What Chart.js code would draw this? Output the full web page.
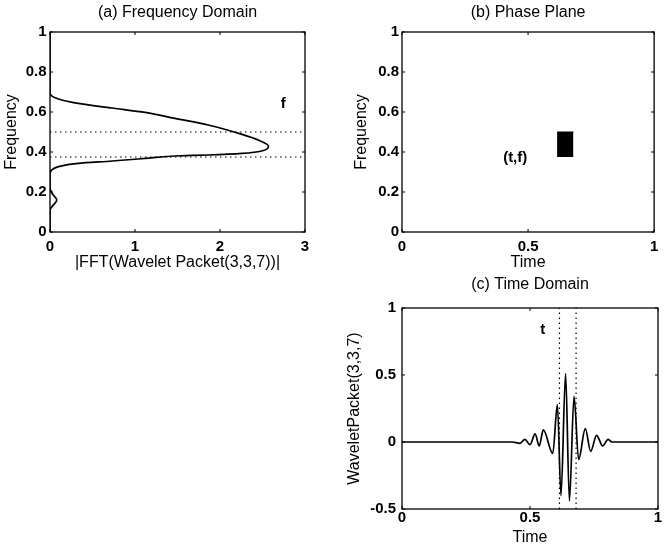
<!DOCTYPE html>
<html>
<head>
<meta charset="utf-8">
<script src="https://cdn.jsdelivr.net/npm/chart.js@4.4.1/dist/chart.umd.min.js"></script>
<style>
  html, body { margin: 0; padding: 0; background: #fff; overflow: hidden; }
  #wrap { position: relative; width: 664px; height: 550px; }
  canvas { position: absolute; }
</style>
</head>
<body>
<div id="wrap">
  <canvas id="freq" width="330" height="275" style="left:0;top:0"></canvas>
  <canvas id="phase" width="334" height="275" style="left:330px;top:0"></canvas>
  <canvas id="time" width="334" height="275" style="left:330px;top:275px"></canvas>
</div>
<script>
// (a) |FFT| of the wavelet packet, ordered by frequency
const specFreq = [0, 0.11, 0.13, 0.16, 0.19, 0.22, 0.29, 0.31, 0.327, 0.343, 0.355, 0.368, 0.38, 0.385, 0.393, 0.405, 0.43, 0.46, 0.488, 0.535, 0.568, 0.598, 0.62, 0.643, 0.665, 0.685, 0.70, 0.72, 1];
const specMag  = [0, 0, 0.03, 0.08, 0.03, 0, 0, 0.02, 0.1, 0.33, 0.73, 1.12, 1.47, 1.86, 2.26, 2.49, 2.57, 2.45, 2.26, 1.86, 1.47, 1.12, 0.73, 0.33, 0.1, 0.01, 0, 0, 0];

// frequency band (dotted in a, box height in b) and time band (dotted in c, box width in b)
const bandFreq = [0.375, 0.5];
const bandTime = [0.615, 0.68];

// (c) the wavelet packet in time, peaks and troughs
const waveTime = [0, 0.43, 0.461, 0.48, 0.50, 0.52, 0.536, 0.552, 0.589, 0.607, 0.621, 0.639, 0.654, 0.672, 0.69, 0.716, 0.737, 0.76, 0.784, 0.805, 0.82, 1];
const waveVal  = [0, 0, -0.01, 0.02, -0.02, 0.06, -0.03, 0.09, -0.085, 0.28, -0.4, 0.51, -0.44, 0.34, -0.13, 0.1, -0.07, 0.05, -0.03, 0.02, 0, 0];

// tick labels
const magTicks  = [0, 1, 2, 3];
const freqTicks = [0, 0.2, 0.4, 0.6, 0.8, 1];
const timeTicks = [0, 0.5, 1];
const waveTicks = [-0.5, 0, 0.5, 1];

Chart.defaults.font.family = '"Liberation Sans", Arial, Helvetica, sans-serif';
Chart.defaults.font.size = 16;
Chart.defaults.color = '#000';

const FONT = { size: 16 };
const TICKFONT = { size: 15, weight: 'bold' };

// matlab style frame + inward tick marks
const boxPlugin = {
  id: 'box',
  afterDatasetsDraw(chart) {
    const { ctx, chartArea: a, scales } = chart;
    ctx.save();
    ctx.strokeStyle = '#000';
    ctx.lineWidth = 1.3;
    ctx.strokeRect(a.left, a.top, a.right - a.left, a.bottom - a.top);
    ctx.lineWidth = 1;
    ctx.beginPath();
    scales.x.ticks.forEach(t => {
      const px = scales.x.getPixelForValue(t.value);
      ctx.moveTo(px, a.bottom); ctx.lineTo(px, a.bottom - 3);
      ctx.moveTo(px, a.top); ctx.lineTo(px, a.top + 3);
    });
    scales.y.ticks.forEach(t => {
      const py = scales.y.getPixelForValue(t.value);
      ctx.moveTo(a.left, py); ctx.lineTo(a.left + 3, py);
      ctx.moveTo(a.right, py); ctx.lineTo(a.right - 3, py);
    });
    ctx.stroke();
    ctx.restore();
  }
};

// small text labels placed at data coordinates
const notesPlugin = {
  id: 'notes',
  afterDatasetsDraw(chart, args, opts) {
    const { ctx, scales } = chart;
    ctx.save();
    ctx.fillStyle = '#000';
    ctx.font = 'bold 15px "Liberation Sans", Arial, sans-serif';
    ctx.textAlign = 'center';
    ctx.textBaseline = 'middle';
    (opts.items || []).forEach(n => {
      ctx.fillText(n.text, scales.x.getPixelForValue(n.x), scales.y.getPixelForValue(n.y));
    });
    ctx.restore();
  }
};

function fixTicks(vals) {
  return scale => { scale.ticks = vals.map(v => ({ value: v })); };
}

const plainLabel = v => String(v);

function makeChart(id, g) {
  return new Chart(document.getElementById(id), {
    type: 'line',
    data: { datasets: g.datasets },
    plugins: [boxPlugin, notesPlugin],
    options: {
      responsive: false,
      animation: false,
      devicePixelRatio: 1,
      indexAxis: g.indexAxis || 'x',
      layout: { padding: { left: 0, top: 0, right: g.padRight, bottom: g.padBottom } },
      elements: { point: { radius: 0 } },
      plugins: {
        legend: { display: false },
        tooltip: { enabled: false },
        notes: { items: g.notes }
      },
      scales: {
        x: {
          type: 'linear', position: 'bottom',
          min: g.xRange[0], max: g.xRange[1],
          afterBuildTicks: fixTicks(g.xTicks),
          afterFit: s => { s.height = g.xAxisH; },
          grid: { display: false, drawTicks: false },
          border: { display: false },
          ticks: { font: TICKFONT, padding: g.xTickPad, maxRotation: 0, autoSkip: false, callback: plainLabel },
          title: { display: true, text: g.xTitle, font: FONT, padding: { top: 0, bottom: 0 } }
        },
        y: {
          type: 'linear', position: 'left',
          min: g.yRange[0], max: g.yRange[1],
          afterBuildTicks: fixTicks(g.yTicks),
          afterFit: s => { s.width = g.yAxisW; },
          grid: { display: false, drawTicks: false },
          border: { display: false },
          ticks: { font: TICKFONT, padding: g.yTickPad, autoSkip: false, callback: plainLabel },
          title: { display: true, text: g.yTitle, font: FONT, padding: { top: g.yTitlePad, bottom: 0 } }
        },
        xTop: {
          type: 'linear', axis: 'x', position: 'top',
          min: g.xRange[0], max: g.xRange[1],
          afterFit: s => { s.height = g.topH; },
          grid: { display: false, drawTicks: false },
          border: { display: false },
          ticks: { display: false },
          title: { display: true, text: g.title, font: FONT, padding: { top: g.titlePad, bottom: 0 } }
        }
      }
    }
  });
}

const solid = { borderColor: '#000', borderWidth: 1.7, pointRadius: 0, fill: false };
const dotted = { borderColor: '#000', borderWidth: 1.2, borderDash: [1.5, 3.5], pointRadius: 0, fill: false, tension: 0 };

// (a) Frequency Domain
const magEnds = [magTicks[0], magTicks[magTicks.length - 1]];
makeChart('freq', {
  indexAxis: 'y',
  datasets: [
    Object.assign({}, solid, {
      data: specFreq.map((f, i) => ({ x: specMag[i], y: f })),
      cubicInterpolationMode: 'monotone'
    }),
    Object.assign({}, dotted, { data: magEnds.map(m => ({ x: m, y: bandFreq[1] })) }),
    Object.assign({}, dotted, { data: magEnds.map(m => ({ x: m, y: bandFreq[0] })) })
  ],
  xRange: [0, 3], yRange: [0, 1],
  xTicks: magTicks, yTicks: freqTicks,
  xTitle: '|FFT(Wavelet Packet(3,3,7))|', yTitle: 'Frequency', title: '(a) Frequency Domain',
  padRight: 25, padBottom: 3, topH: 32, xAxisH: 40, yAxisW: 50,
  titlePad: 3.4, xTickPad: 6, yTickPad: 3.5, yTitlePad: 2.4,
  notes: [{ text: 'f', x: 2.745, y: 0.643 }]
});

// (b) Phase Plane
makeChart('phase', {
  datasets: [
    {
      data: bandTime.map(t => ({ x: t, y: bandFreq[1] })),
      borderColor: '#000', borderWidth: 1, backgroundColor: '#000', pointRadius: 0,
      fill: { value: bandFreq[0] }
    }
  ],
  xRange: [0, 1], yRange: [0, 1],
  xTicks: timeTicks, yTicks: freqTicks,
  xTitle: 'Time', yTitle: 'Frequency', title: '(b) Phase Plane',
  padRight: 6, padBottom: 3, topH: 32, xAxisH: 40, yAxisW: 72,
  titlePad: 3.4, xTickPad: 5.7, yTickPad: 3, yTitlePad: 22,
  notes: [{ text: '(t,f)', x: 0.449, y: 0.37 }]
});

// (c) Time Domain
const waveEnds = [waveTicks[0], waveTicks[waveTicks.length - 1]];
makeChart('time', {
  datasets: [
    Object.assign({}, solid, {
      data: waveTime.map((t, i) => ({ x: t, y: waveVal[i] })),
      cubicInterpolationMode: 'monotone'
    }),
    Object.assign({}, dotted, { data: waveEnds.map(v => ({ x: bandTime[0], y: v })) }),
    Object.assign({}, dotted, { data: waveEnds.map(v => ({ x: bandTime[1], y: v })) })
  ],
  xRange: [0, 1], yRange: [-0.5, 1],
  xTicks: timeTicks, yTicks: waveTicks,
  xTitle: 'Time', yTitle: 'WaveletPacket(3,3,7)', title: '(c) Time Domain',
  padRight: 6, padBottom: 3, topH: 33, xAxisH: 38, yAxisW: 72,
  titlePad: 0.4, xTickPad: 0, yTickPad: 6, yTitlePad: 15.4,
  notes: [{ text: 't', x: 0.55, y: 0.84 }]
});
</script>
</body>
</html>
